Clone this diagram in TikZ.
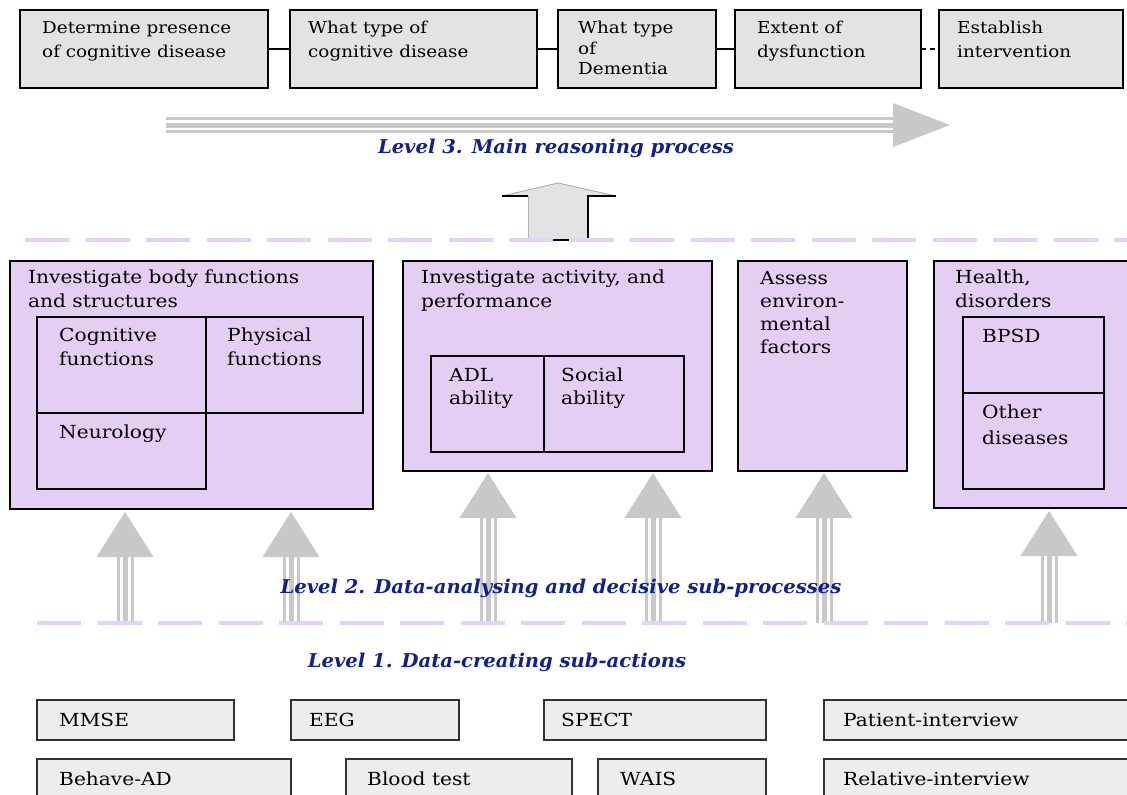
\documentclass[tikz,border=0pt]{standalone}
\usepackage{fontspec}
\setmainfont{DejaVu Serif}[FakeStretch=1.12]
\newfontfamily\lvlfont{DejaVu Serif}[FakeStretch=1.03]
\usetikzlibrary{calc}
\definecolor{lav}{RGB}{229,206,244}
\definecolor{lavline}{RGB}{230,208,245}
\definecolor{topgray}{RGB}{227,227,227}
\definecolor{botgray}{RGB}{237,237,237}
\definecolor{arrgray}{RGB}{200,200,200}
\definecolor{lvlblue}{RGB}{16,32,140}
\tikzset{
  boxbase/.style={draw=black, line width=2pt, anchor=north west, inner sep=0pt, outer sep=0pt},
  topbox/.style={boxbase, fill=topgray},
  purplebox/.style={boxbase, fill=lav},
  inbox/.style={boxbase},
  botbox/.style={boxbase, draw=black!80, fill=botgray},
  toptxt/.style={anchor=north west, align=left, inner sep=0pt, font=\fontsize{16.4}{24}\selectfont},
  txt/.style={anchor=north west, align=left, inner sep=0pt, font=\fontsize{18}{24}\selectfont},
  bottxt/.style={anchor=west, inner sep=0pt, font=\fontsize{18}{22}\selectfont},
  lvl/.style={inner sep=0pt, text=lvlblue, font=\lvlfont\bfseries\itshape\fontsize{19}{22}\selectfont},
  dashline/.style={lavline, line width=4pt, dash pattern=on 44pt off 16.5pt},
  conn/.style={black, line width=2pt},
}
\newcommand\UpArr[2]{%
  \fill[arrgray] (#1) -- ++(-28.5,45) -- ++(57,0) -- cycle;
  \foreach \dx/\w in {-7/3,0/5,7/3}
    \draw[arrgray, line width=\w pt] ([shift={(\dx,44)}]#1) -- ([xshift=\dx pt]#2);
}
\begin{document}
\begin{tikzpicture}[x=1pt,y=-1pt]
\useasboundingbox (0,0) rectangle (1127,795);
\clip (0,0) rectangle (1127,795);

% ---------- Level 3: top boxes ----------
\node[topbox, minimum width=248, minimum height=78] (t1) at (20,10) {};
\node[topbox, minimum width=247, minimum height=78] (t2) at (290,10) {};
\node[topbox, minimum width=158, minimum height=78] (t3) at (558,10) {};
\node[topbox, minimum width=186, minimum height=78] (t4) at (735,10) {};
\node[topbox, minimum width=184, minimum height=78] (t5) at (939,10) {};
\node[toptxt] (t1l) at ([shift={(22,11)}]t1.north west) {Determine presence\\of cognitive disease};
\node[toptxt] (t2l) at ([shift={(18,11)}]t2.north west) {What type of\\cognitive disease};
\node[toptxt, font=\fontsize{16.4}{20.5}\selectfont] (t3l) at ([shift={(20,11)}]t3.north west) {What type\\of\\Dementia};
\node[toptxt] (t4l) at ([shift={(22,11)}]t4.north west) {Extent of\\dysfunction};
\node[toptxt] (t5l) at ([shift={(18,11)}]t5.north west) {Establish\\intervention};
\draw[conn] ([yshift=-39pt]t1.north east) -- ([yshift=-39pt]t2.north west);
\draw[conn] ([yshift=-39pt]t2.north east) -- ([yshift=-39pt]t3.north west);
\draw[conn] ([yshift=-39pt]t3.north east) -- ([yshift=-39pt]t4.north west);
\draw[conn, dash pattern=on 5pt off 4pt] ([yshift=-39pt]t4.north east) -- ([yshift=-39pt]t5.north west);

% ---------- main reasoning arrow ----------
\coordinate (mstart) at (166,125);
\coordinate (mtip) at (950,125);
\fill[arrgray] (mtip) -- ++(-57,-22) -- ++(0,44) -- cycle;
\foreach \dy/\w in {-6.5/2.2,0/5,6.5/2.2}
  \draw[arrgray, line width=\w pt] ([yshift=-\dy pt]mstart) -- ([shift={(-56,\dy)}]mtip);
\node[lvl] (L3) at (556,148) {Level 3. Main reasoning process};

% ---------- block up arrow ----------
\coordinate (btip) at (558,183);
\fill[topgray] (btip) -- (616,196) -- (588,196) -- (588,240) -- (528,240) -- (528,196) -- (502,196) -- cycle;
\draw[black!35, line width=0.8pt] (502,196) -- (btip) -- (616,196);
\draw[black!30, line width=1pt] (528,196) -- (528,240);
\draw[black, line width=1.8pt] (502,196) -- (528,196);
\draw[black, line width=1.8pt] (588,240) -- (588,196) -- (616,196);
\draw[black, line width=2pt] (552,240) -- (569,240);

% ---------- dashed level separators ----------
\coordinate (d1s) at (25,240); \coordinate (d1e) at (1127,240);
\coordinate (d2s) at (37,623); \coordinate (d2e) at (1127,623);

% ---------- Level 2 boxes ----------
\node[purplebox, minimum width=363, minimum height=248] (bA) at (10,261) {};
\node[txt] (bAl) at ([shift={(18,9)}]bA.north west) {Investigate body functions\\and structures};
\node[inbox, minimum width=169, minimum height=96] (cog) at (37,317) {};
\node[inbox, minimum width=157, minimum height=96] (phy) at (206,317) {};
\node[inbox, minimum width=169, minimum height=76] (neu) at (37,413) {};
\node[txt] (cogl) at ([shift={(22,11)}]cog.north west) {Cognitive\\functions};
\node[txt] (phyl) at ([shift={(21,11)}]phy.north west) {Physical\\functions};
\node[txt] (neul) at ([shift={(22,12)}]neu.north west) {Neurology};

\node[purplebox, minimum width=309, minimum height=210] (bB) at (403,261) {};
\node[txt] (bBl) at ([shift={(18,9)}]bB.north west) {Investigate activity, and\\performance};
\node[inbox, minimum width=113, minimum height=96] (adl) at (431,356) {};
\node[inbox, minimum width=140, minimum height=96] (soc) at (544,356) {};
\node[txt, font=\fontsize{18}{23}\selectfont] (adll) at ([shift={(18,12)}]adl.north west) {ADL\\ability};
\node[txt, font=\fontsize{18}{23}\selectfont] (socl) at ([shift={(17,12)}]soc.north west) {Social\\ability};

\node[purplebox, minimum width=169, minimum height=210] (bC) at (738,261) {};
\node[txt, font=\fontsize{18}{23.2}\selectfont] (bCl) at ([shift={(22,10)}]bC.north west) {Assess\\environ-\\mental\\factors};

\node[purplebox, minimum width=220, minimum height=247] (bD) at (934,261) {};
\node[txt] (bDl) at ([shift={(21,9)}]bD.north west) {Health,\\disorders};
\node[inbox, minimum width=141, minimum height=76] (bpsd) at (963,317) {};
\node[inbox, minimum width=141, minimum height=96] (oth) at (963,393) {};
\node[txt] (bpsdl) at ([shift={(19,12)}]bpsd.north west) {BPSD};
\node[txt, font=\fontsize{18}{26}\selectfont] (othl) at ([shift={(19,12)}]oth.north west) {Other\\diseases};

% ---------- up arrows level 1 -> level 2 ----------
\coordinate (a1) at ([xshift=115pt, yshift=-3pt]bA.south west);
\coordinate (a2) at ([xshift=281pt, yshift=-3pt]bA.south west);
\coordinate (a3) at ([xshift=85pt, yshift=-2pt]bB.south west);
\coordinate (a4) at ([xshift=250pt, yshift=-2pt]bB.south west);
\coordinate (a5) at ([xshift=86pt, yshift=-2pt]bC.south west);
\coordinate (a6) at ([xshift=115pt, yshift=-3pt]bD.south west);
\foreach \a in {a1,a2,a3,a4,a5,a6}{
  \coordinate (\a f) at (\a |- d2s);
  \UpArr{\a}{\a f}
}

\draw[dashline] (d1s) -- (d1e);
\draw[dashline] (d2s) -- (d2e);

\node[lvl] (L2) at (561,588) {Level 2. Data-analysing and decisive sub-processes};
\node[lvl] (L1) at (497,662) {Level 1. Data-creating sub-actions};

% ---------- Level 1 boxes ----------
\node[botbox, minimum width=197, minimum height=40] (mmse) at (37,700) {};
\node[botbox, minimum width=168, minimum height=40] (eeg) at (291,700) {};
\node[botbox, minimum width=222, minimum height=40] (spect) at (544,700) {};
\node[botbox, minimum width=330, minimum height=40] (pint) at (824,700) {};
\node[botbox, minimum width=254, minimum height=40] (behave) at (37,759) {};
\node[botbox, minimum width=226, minimum height=40] (blood) at (346,759) {};
\node[botbox, minimum width=168, minimum height=40] (wais) at (598,759) {};
\node[botbox, minimum width=330, minimum height=40] (rint) at (824,759) {};
\node[bottxt] (mmsel) at ([xshift=22pt]mmse.west) {MMSE};
\node[bottxt] (eegl) at ([xshift=18pt]eeg.west) {EEG};
\node[bottxt] (spectl) at ([xshift=17pt]spect.west) {SPECT};
\node[bottxt] (pintl) at ([xshift=19pt]pint.west) {Patient-interview};
\node[bottxt] (behavel) at ([xshift=22pt]behave.west) {Behave-AD};
\node[bottxt] (bloodl) at ([xshift=21pt]blood.west) {Blood test};
\node[bottxt] (waisl) at ([xshift=22pt]wais.west) {WAIS};
\node[bottxt] (rintl) at ([xshift=19pt]rint.west) {Relative-interview};
\end{tikzpicture}
\end{document}
